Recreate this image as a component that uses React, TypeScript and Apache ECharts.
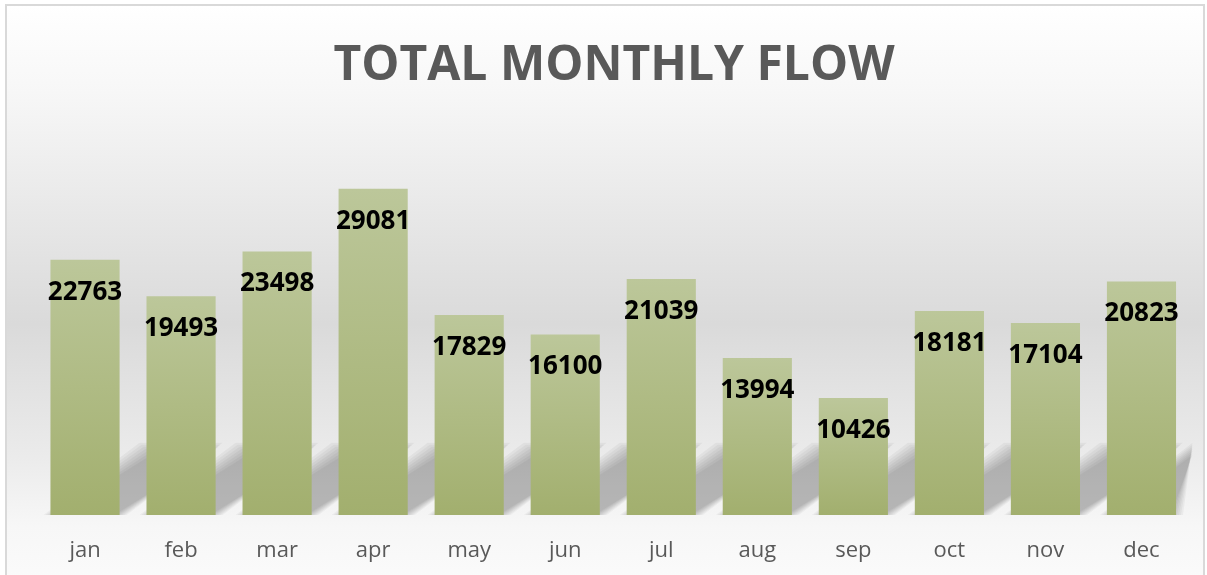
import React, { useEffect, useRef } from "react";
import * as echarts from "echarts";

const months = ["jan", "feb", "mar", "apr", "may", "jun", "jul", "aug", "sep", "oct", "nov", "dec"];
const flow = [22763, 19493, 23498, 29081, 17829, 16100, 21039, 13994, 10426, 18181, 17104, 20823];
const titleText = "TOTAL MONTHLY FLOW";

const BAR_RATIO = 0.72;

export default function App() {
  const ref = useRef<HTMLDivElement>(null);
  useEffect(() => {
    if (!ref.current) return;
    const chart = echarts.init(ref.current, null, { renderer: "svg" });
    const shadowData = flow.map((v, i) => [i, v]);
    chart.setOption({
      animation: false,
      graphic: [
        {
          type: "rect",
          z: -10,
          silent: true,
          shape: { x: 6, y: 5, width: 1198, height: 580 },
          style: {
            fill: new echarts.graphic.LinearGradient(0, 0, 0, 1, [
              { offset: 0, color: "#ffffff" },
              { offset: 0.15, color: "#f7f7f7" },
              { offset: 0.55, color: "#dadada" },
              { offset: 0.78, color: "#ebebeb" },
              { offset: 0.9, color: "#f7f7f7" },
              { offset: 1, color: "#fbfbfb" },
            ]),
            stroke: "#d9d9d9",
            lineWidth: 2,
          },
        },
      ],
      title: {
        text: titleText,
        left: 609,
        textAlign: "center",
        top: 32,
        textStyle: {
          fontFamily: "Open Sans",
          fontWeight: "bold",
          fontSize: 48,
          color: "#595959",
        },
      },
      grid: { left: 37, right: 17.5, top: 156, bottom: 60 },
      xAxis: {
        type: "category",
        data: months,
        axisLine: { show: false },
        axisTick: { show: false },
        axisLabel: {
          fontFamily: "Open Sans",
          fontSize: 22,
          color: "#595959",
          margin: 22,
        },
      },
      yAxis: {
        type: "value",
        min: 0,
        max: 32000,
        show: false,
        splitLine: { show: false },
      },
      series: [
        {
          type: "custom",
          z: 1,
          silent: true,
          data: shadowData,
          renderItem: (params: any, api: any) => {
            const idx = api.value(0);
            const base = api.coord([idx, 0]);
            const cat = api.size([1, 0])[0];
            const bw = cat * BAR_RATIO;
            const x0 = base[0] - bw / 2;
            const x1 = base[0] + bw / 2;
            const y0 = base[1];
            const D = cat;
            const k = 0.68;
            const cs = params.coordSys;
            const children: any[] = [];
            const offs = [-5, -3, -1, 1, 3, 5, 7];
            offs.forEach((e) => {
              const pts = [
                [x0 - e, y0],
                [x1 + e, y0],
                [x1 + e + D, y0 - D * k - e],
                [x0 - e + D, y0 - D * k - e],
              ];
              const clipped = echarts.graphic.clipPointsByRect(pts, {
                x: cs.x,
                y: cs.y,
                width: cs.width + 3,
                height: cs.height,
              });
              children.push({
                type: "polygon",
                shape: { points: clipped },
                style: { fill: "rgba(0,0,0,0.04)" },
              });
            });
            return { type: "group", children };
          },
        },
        {
          type: "bar",
          z: 2,
          data: flow,
          barWidth: "72%",
          itemStyle: {
            color: new echarts.graphic.LinearGradient(0, 0, 0, 1, [
              { offset: 0, color: "#bcc79a" },
              { offset: 1, color: "#a2af6e" },
            ]),
          },
          label: {
            show: true,
            position: "insideTop",
            distance: 17,
            fontFamily: "Open Sans",
            fontWeight: "bold",
            fontSize: 26,
            color: "#000000",
          },
        },
      ],
    });
    return () => chart.dispose();
  }, []);
  return (
    <div
      ref={ref}
      style={{ position: "fixed", left: 0, top: 0, width: 1207, height: 575 }}
    />
  );
}
